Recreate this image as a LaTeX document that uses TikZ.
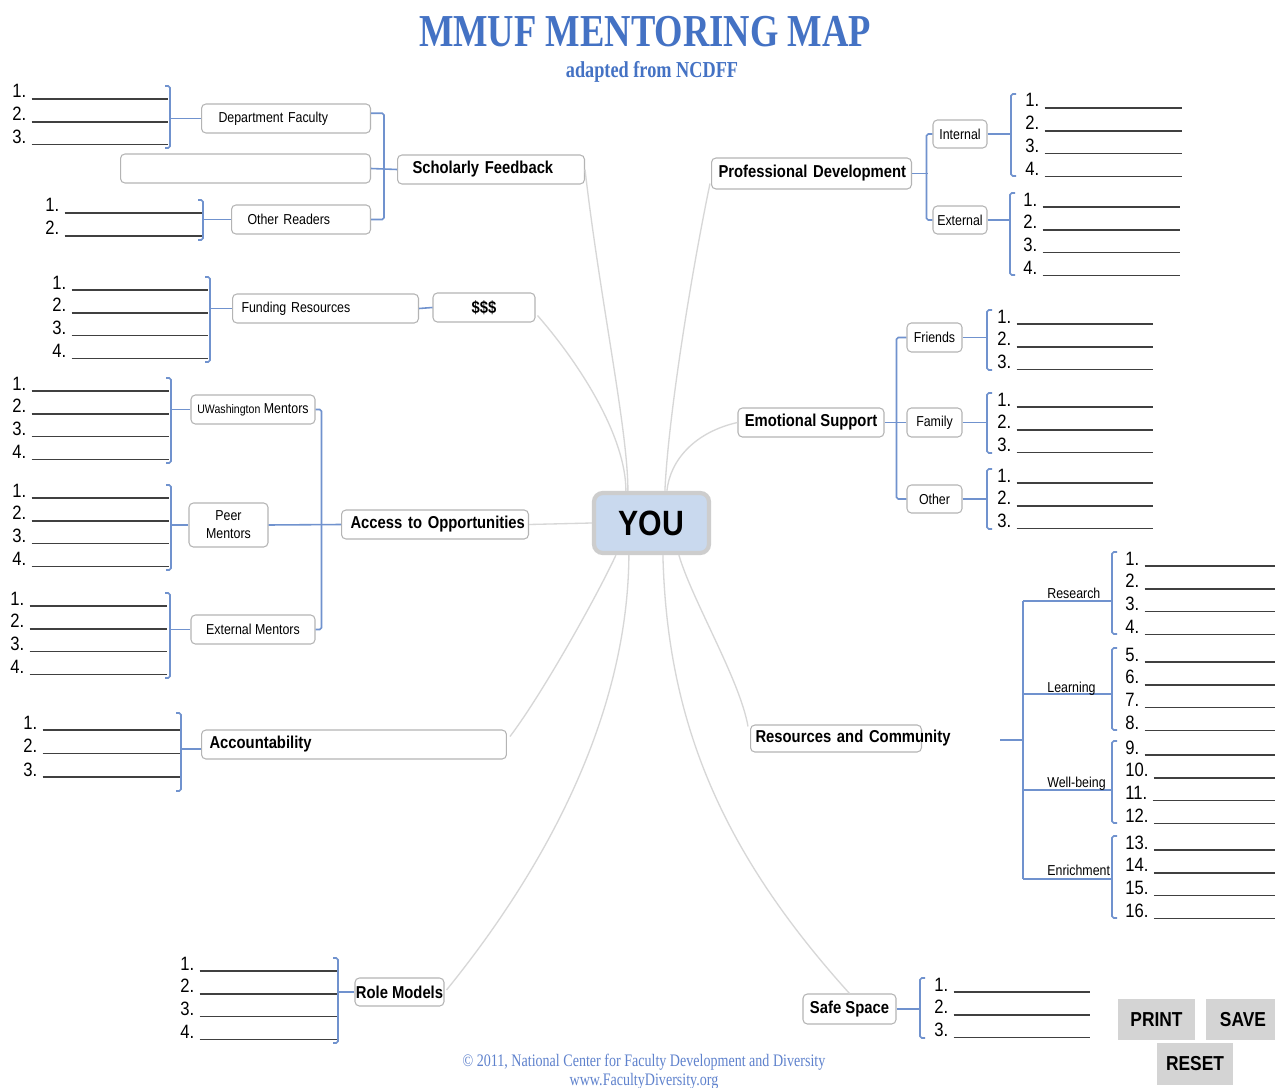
\documentclass[tikz,border=0pt]{standalone}
\usepackage{fontspec}
\setmainfont{Liberation Serif}[FakeStretch=0.8]
\newfontfamily\sansn{Liberation Sans}[FakeStretch=0.86]
\usetikzlibrary{calc}
\definecolor{titleblue}{RGB}{68,114,196}
\definecolor{footblue}{RGB}{95,130,205}
\definecolor{connblue}{RGB}{112,146,206}
\definecolor{boxgray}{RGB}{180,180,180}
\definecolor{curvegray}{RGB}{215,215,215}
\definecolor{youfill}{RGB}{201,217,238}
\definecolor{youedge}{RGB}{205,205,205}
\definecolor{btngray}{RGB}{212,212,212}
% #1 step, #2 prefix, #3 number x, #4 line end x, #5 first baseline, #6 labels
\newcommand\blanks[6][22.8]{%
  \foreach \lab [count=\i] in {#6}{%
    \pgfmathsetmacro\yy{#5+(\i-1)*#1}%
    \node[num] (#2\i) at (#3,\yy) {\lab.};
    \draw[uline] ($(#2\i.base east)+(5,1)$) -- (#4,\yy+1);
  }}
\newcommand\rbrak[3]{\draw[conn] (#1-5,#2) -- (#1,#2) -- (#1,#3) -- (#1-5,#3);}
\newcommand\lbrak[3]{\draw[conn] (#1+5,#2) -- (#1,#2) -- (#1,#3) -- (#1+5,#3);}
\begin{document}
\begin{tikzpicture}[x=0.02cm,y=-0.02cm,
  box/.style={draw=boxgray, line width=0.6pt, rounded corners=2.5pt, fill=white, inner sep=0pt, font=\sansn\fontsize{8.2}{10.2}\selectfont},
  bbox/.style={box, font=\sansn\bfseries\fontsize{9.8}{11}\selectfont},
  conn/.style={draw=connblue, line width=0.9pt, rounded corners=1pt},
  curve/.style={draw=curvegray, line width=0.75pt},
  num/.style={font=\sansn\fontsize{11}{13}\selectfont, inner sep=0pt, anchor=base west},
  uline/.style={draw=black!75, line width=0.8pt},
  lab/.style={font=\sansn\fontsize{8.2}{10}\selectfont, inner sep=0pt, anchor=base west},
  btn/.style={fill=btngray, inner sep=0pt, font=\sansn\bfseries\fontsize{11.5}{13}\selectfont}]
\fill[white] (0,0) rectangle (1275,1088);
\useasboundingbox (0,0) rectangle (1275,1088);

% titles
\node[anchor=base, text=titleblue, font=\bfseries\fontsize{26}{30}\selectfont, inner sep=0pt] (title) at (645,47) {MMUF MENTORING MAP};
\node[anchor=base, text=titleblue, font=\bfseries\fontsize{13}{15}\selectfont, inner sep=0pt] (subtitle) at (652,78) {adapted from NCDFF};
\node[anchor=base, text=footblue, font=\fontsize{10}{12}\selectfont, inner sep=0pt] (copy) at (644,1066) {\textcopyright{} 2011, National Center for Faculty Development and Diversity};
\node[anchor=base, text=footblue, font=\fontsize{10}{12}\selectfont, inner sep=0pt] (url) at (644,1085) {\underline{www.FacultyDiversity.org}};

% boxes
\node[box, anchor=west, minimum height=0.58cm, inner xsep=0.34cm, text width=2.70cm, align=left] (deptfac) at (201,118.5) {Department Faculty};
\node[box, anchor=west, minimum width=5cm, minimum height=0.58cm] (emptyb) at (120,168.5) {};
\node[box, anchor=west, minimum height=0.58cm, inner xsep=0.32cm, text width=2.14cm, align=left] (otherr) at (231,219.5) {Other Readers};
\node[bbox, anchor=west, minimum height=0.58cm, inner xsep=0.30cm, text width=3.14cm, align=left] (sch) at (397,169.5) {\mbox{Scholarly Feedback}};
\node[bbox, anchor=west, minimum height=0.62cm, inner xsep=0.14cm, text width=3.72cm, align=left] (profdev) at (711,173.5) {\mbox{Professional Development}};
\node[box, minimum width=1.08cm, minimum height=0.56cm] (internal) at (960,134) {Internal};
\node[box, minimum width=1.08cm, minimum height=0.56cm] (external) at (960,220) {External};
\node[box, anchor=west, minimum height=0.58cm, inner xsep=0.18cm, text width=3.36cm, align=left] (funding) at (232,308.5) {Funding Resources};
\node[bbox, minimum width=2.04cm, minimum height=0.58cm] (dollars) at (484,307.5) {\$\$\$};
\node[box, minimum width=2.48cm, minimum height=0.58cm] (uw) at (253,409.5) {{\fontsize{7}{9}\selectfont UWashington} Mentors};
\node[box, minimum width=1.58cm, minimum height=0.88cm, align=center] (peer) at (228.5,525) {Peer\\Mentors};
\node[box, minimum width=2.48cm, minimum height=0.58cm] (extm) at (253,629.5) {External Mentors};
\node[bbox, anchor=west, minimum height=0.58cm, inner xsep=0.18cm, text width=3.38cm, align=left] (access) at (341,524.5) {\mbox{Access to Opportunities}};
\node[draw=youedge, line width=2.4pt, fill=youfill, rounded corners=5pt, minimum width=2.3cm, minimum height=1.2cm, font=\sansn\bfseries\fontsize{20}{22}\selectfont] (you) at (651.5,523) {YOU};
\node[bbox, minimum width=2.92cm, minimum height=0.58cm] (emo) at (811,422.5) {Emotional Support};
\node[box, minimum width=1.1cm, minimum height=0.58cm] (friends) at (934.5,337.5) {Friends};
\node[box, minimum width=1.1cm, minimum height=0.58cm] (family) at (934.5,422.5) {Family};
\node[box, minimum width=1.1cm, minimum height=0.56cm] (other) at (934.5,499) {Other};
\node[bbox, anchor=west, minimum height=0.54cm, inner xsep=0.1cm, text width=3.22cm, align=left] (res) at (750,738.5) {\mbox{Resources and Community}};
\node[bbox, anchor=west, minimum height=0.58cm, inner xsep=0.16cm, text width=5.78cm, align=left] (acc) at (201,744.5) {Accountability};
\node[bbox, minimum width=1.78cm, minimum height=0.56cm] (role) at (399.5,992) {Role Models};
\node[bbox, minimum width=1.86cm, minimum height=0.6cm] (safe) at (849.5,1009) {Safe Space};
\node[btn, minimum width=1.54cm, minimum height=0.82cm] (print) at (1156.5,1019.5) {PRINT};
\node[btn, minimum width=1.48cm, minimum height=0.82cm] (save) at (1243,1019.5) {SAVE};
\node[btn, minimum width=1.52cm, minimum height=0.84cm] (reset) at (1195,1064) {RESET};

% grey curves to YOU
\draw[curve] (sch.east) .. controls (600,300) and (628,430) .. ($(you.north west)+(36,0)$);
\draw[curve] ($(profdev.south west)+(-1,-6)$) .. controls (690,280) and (668,420) .. ($(you.north west)+(73,0)$);
\draw[curve] ($(dollars.east)+(2,8)$) .. controls (585,370) and (626,440) .. ($(you.north west)+(34,0)$);
\draw[curve] (emo.west) .. controls (695,432) and (670,460) .. ($(you.north west)+(75,0)$);
\draw[curve] (access.east) -- (you.west);
\draw[curve] ($(acc.east)+(3,-8)$) .. controls (545,690) and (600,590) .. ($(you.south west)+(24,0)$);
\draw[curve] ($(role.east)+(2,-2)$) .. controls (560,850) and (628,700) .. ($(you.south west)+(37,0)$);
\draw[curve] ($(you.south west)+(71,0)$) .. controls (667,720) and (720,850) .. (safe.north);
\draw[curve] ($(you.south west)+(87,0)$) .. controls (692,600) and (740,680) .. ($(res.north west)+(-2,2)$);

% Scholarly feedback group
\blanks{A}{12}{168}{98}{1,2,3}
\rbrak{170}{86}{148}
\coordinate (Ast) at (170,118.5); \draw[conn] (Ast) -- (Ast -| deptfac.west);
\blanks{B}{45}{202}{212}{1,2}
\rbrak{203}{200}{240}
\coordinate (Bst) at (203,219.5); \draw[conn] (Bst) -- (Bst -| otherr.west);
\draw[conn] ([yshift=3pt]deptfac.east) -- ++(13,0) |- (otherr.east);
\draw[conn] (emptyb.east) -- (sch.west);

% Funding
\blanks{F}{52}{208}{289}{1,2,3,4}
\rbrak{210}{277}{362}
\coordinate (Fst) at (210,308.5); \draw[conn] (Fst) -- (Fst -| funding.west);
\draw[conn] (funding.east) -- (dollars.west);

% Access to opportunities
\blanks{U}{12}{169}{390}{1,2,3,4}
\rbrak{171}{378}{463}
\coordinate (Ust) at (171,409.5); \draw[conn] (Ust) -- (Ust -| uw.west);
\blanks{P}{12}{169}{497}{1,2,3,4}
\rbrak{171}{485}{570}
\coordinate (Pst) at (171,525); \draw[conn] (Pst) -- (Pst -| peer.west);
\blanks{E}{10}{167}{605}{1,2,3,4}
\rbrak{170}{593}{678}
\coordinate (Est) at (170,629.5); \draw[conn] (Est) -- (Est -| extm.west);
\draw[conn] (uw.east) -- ++(6,0) |- (extm.east);
\draw[conn] (peer.east) -- (access.west);

% Accountability
\blanks[23.5]{C}{23}{180}{729}{1,2,3}
\rbrak{181}{713}{791}
\coordinate (Cst) at (181,749); \draw[conn] (Cst) -- (Cst -| acc.west);

% Role models
\blanks{O}{180}{337}{970}{1,2,3,4}
\rbrak{338}{958}{1043}
\coordinate (Ost) at (338,992); \draw[conn] (Ost) -- (Ost -| role.west);

% Professional development
\blanks{I}{1025}{1182}{107}{1,2,3,4}
\lbrak{1011}{94}{176}
\coordinate (Ist) at (1011,134); \draw[conn] (internal.east) -- (Ist);
\blanks{X}{1023}{1180}{206}{1,2,3,4}
\lbrak{1010}{193}{275}
\coordinate (Xst) at (1010,220); \draw[conn] (external.east) -- (Xst);
\draw[conn] (internal.west) -- ++(-6,0) |- (external.west);
\draw[conn] (profdev.east) -- ++(16,0);

% Emotional support
\draw[conn] (friends.west) -- ++(-10,0) |- (other.west);
\draw[conn] (emo.east) -- (family.west);
\blanks{Fr}{997}{1153}{323}{1,2,3}
\lbrak{987}{310}{370}
\coordinate (Frst) at (987,337.5); \draw[conn] (friends.east) -- (Frst);
\blanks{Fa}{997}{1153}{406}{1,2,3}
\lbrak{987}{393}{453}
\coordinate (Fast) at (987,422.5); \draw[conn] (family.east) -- (Fast);
\blanks{Ot}{997}{1153}{482}{1,2,3}
\lbrak{987}{469}{529}
\coordinate (Otst) at (987,499); \draw[conn] (other.east) -- (Otst);

% Safe space
\blanks{S}{934}{1090}{991}{1,2,3}
\lbrak{920}{978}{1038}
\coordinate (Sst) at (920,1009); \draw[conn] (safe.east) -- (Sst);

% Resources and community tree
\coordinate (rstem) at (1000,740);
\coordinate (rjoin) at (1023,740);
\coordinate (rtop) at (1023,601);
\coordinate (rbot) at (1023,879);
\coordinate (rre) at (1112,601);
\coordinate (rle) at (1112,694);
\coordinate (rwb) at (1112,790);
\coordinate (ren) at (1112,879);
\draw[conn] (rstem) -- (rjoin);
\draw[conn] (rtop) -- (rbot);
\draw[conn] (rtop) -- (rre);
\draw[conn] (rtop |- rle) -- (rle);
\draw[conn] (rtop |- rwb) -- (rwb);
\draw[conn] (rbot) -- (ren);
\node[lab] (lre) at (1047,598) {Research};
\node[lab] (lle) at (1047,692) {Learning};
\node[lab] (lwb) at (1047,787) {Well-being};
\node[lab] (len) at (1047,875) {Enrichment};
\blanks{Rr}{1125}{1280}{565}{1,2,3,4}
\lbrak{1112}{552}{634}
\blanks{Rl}{1125}{1280}{661}{5,6,7,8}
\lbrak{1112}{648}{730}
\blanks{Rw}{1125}{1280}{754}{9,10,11,12}
\lbrak{1112}{741}{823}
\blanks{Rn}{1125}{1280}{849}{13,14,15,16}
\lbrak{1112}{836}{918}
\end{tikzpicture}
\end{document}
